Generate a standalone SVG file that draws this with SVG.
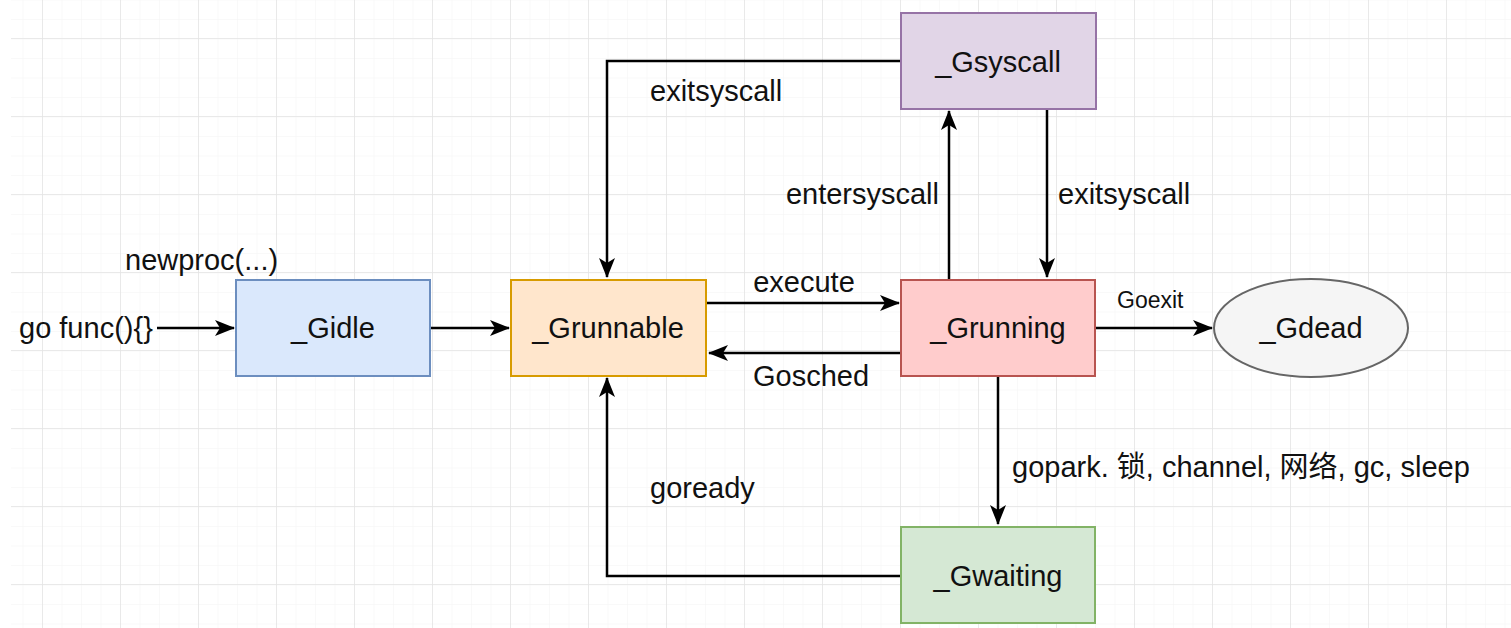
<svg xmlns="http://www.w3.org/2000/svg" width="1511" height="628" viewBox="0 0 1511 628">
<defs>
<pattern id="minor" x="4" y="0.5" width="19.5" height="19.5" patternUnits="userSpaceOnUse">
<path d="M19.5 0 V19.5 M0 19.5 H19.5" fill="none" stroke="#f4f4f4" stroke-width="1"/>
</pattern>
<pattern id="major" x="-35" y="-39" width="78" height="78" patternUnits="userSpaceOnUse">
<path d="M78 0 V78 M0 78 H78" fill="none" stroke="#e4e4e4" stroke-width="1.5"/>
</pattern>
<marker id="arr" viewBox="0 0 20 16" refX="19" refY="8" markerWidth="20" markerHeight="16" markerUnits="userSpaceOnUse" orient="auto">
<path d="M0,0 L20,8 L0,16 L5,8 z" fill="#000"/>
</marker>
</defs>
<style>
text{font-family:"Liberation Sans",Arial,"Noto Sans CJK SC",sans-serif;fill:#111;}
.lbl{font-size:29px;}
.node{font-size:29px;text-anchor:middle;}
.edge{fill:none;stroke:#000;stroke-width:2.5;}
</style>
<rect width="1511" height="628" fill="#fff"/>
<rect x="11" y="0" width="1500" height="628" fill="url(#minor)"/>
<rect x="11" y="0" width="1500" height="628" fill="url(#major)"/>

<g id="connectors">
<path class="edge" d="M157 328 H234" marker-end="url(#arr)"/>
<path class="edge" d="M431 328 H509" marker-end="url(#arr)"/>
<path class="edge" d="M707 303 H899" marker-end="url(#arr)"/>
<path class="edge" d="M901 353 H709" marker-end="url(#arr)"/>
<path class="edge" d="M949 279 V111" marker-end="url(#arr)"/>
<path class="edge" d="M1047 110 V277" marker-end="url(#arr)"/>
<path class="edge" d="M901 61 H607 V277" marker-end="url(#arr)"/>
<path class="edge" d="M1096 328 H1212" marker-end="url(#arr)"/>
<path class="edge" d="M998 377 V524" marker-end="url(#arr)"/>
<path class="edge" d="M901 576 H607 V378" marker-end="url(#arr)"/>
<text class="lbl" x="19" y="338">go func(){}</text>
<text class="lbl" x="125" y="270">newproc(...)</text>
<text class="lbl" x="804" y="292" text-anchor="middle">execute</text>
<text class="lbl" x="811" y="386" text-anchor="middle">Gosched</text>
<text class="lbl" x="650" y="101">exitsyscall</text>
<text class="lbl" x="939" y="204" text-anchor="end">entersyscall</text>
<text class="lbl" x="1058" y="204">exitsyscall</text>
<text x="1117" y="308" style="font-size:23px">Goexit</text>
<text class="lbl" x="1012" y="477">gopark. 锁, channel, 网络, gc, sleep</text>
<text class="lbl" x="650" y="498">goready</text>
</g>

<g id="gidle">
<rect x="236" y="280" width="194" height="96" fill="#dae8fc" stroke="#6c8ebf" stroke-width="2"/>
<text class="node" x="333" y="338">_Gidle</text>
</g>
<g id="grunnable">
<rect x="511" y="280" width="195" height="96" fill="#ffe6cc" stroke="#d79b00" stroke-width="2"/>
<text class="node" x="608" y="338">_Grunnable</text>
</g>
<g id="grunning">
<rect x="901" y="280" width="194" height="96" fill="#ffcccc" stroke="#b85450" stroke-width="2"/>
<text class="node" x="998" y="338">_Grunning</text>
</g>
<g id="gsyscall">
<rect x="901" y="13" width="195" height="96" fill="#e1d5e7" stroke="#9673a6" stroke-width="2"/>
<text class="node" x="998" y="72">_Gsyscall</text>
</g>
<g id="gwaiting">
<rect x="901" y="527" width="194" height="96" fill="#d5e8d4" stroke="#82b366" stroke-width="2"/>
<text class="node" x="998" y="586">_Gwaiting</text>
</g>
<g id="gdead">
<ellipse cx="1311" cy="328" rx="97" ry="49" fill="#f5f5f5" stroke="#666" stroke-width="2"/>
<text class="node" x="1311" y="338">_Gdead</text>
</g>
</svg>
